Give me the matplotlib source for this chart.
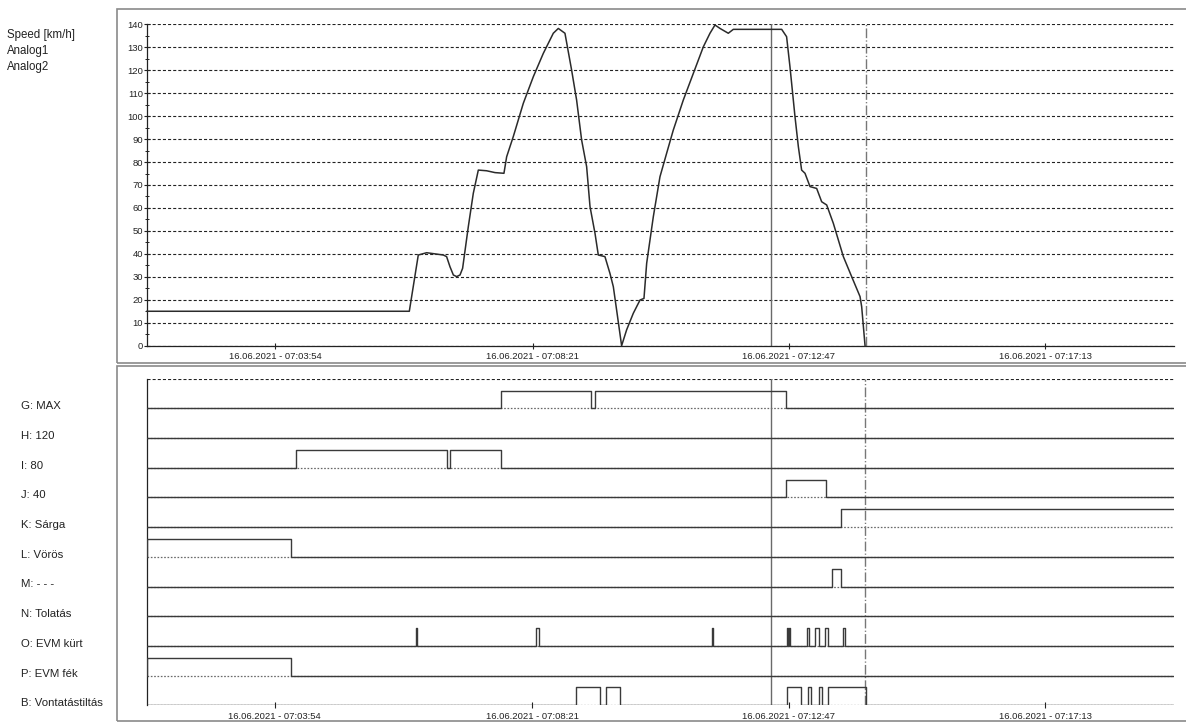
import matplotlib
matplotlib.use("Agg")
import matplotlib.pyplot as plt
from matplotlib.patches import Rectangle
from matplotlib.ticker import FixedLocator, MultipleLocator, FuncFormatter
from matplotlib.transforms import blended_transform_factory

plt.rcParams['font.family'] = ['Liberation Sans', 'DejaVu Sans']
plt.rcParams['lines.scale_dashes'] = False

# idő: másodperc 07:00:00 után (16.06.2021)
speed_t = [100.9, 373.1, 382.4, 391.1, 408.4, 411.8, 415.3, 418.8, 422.2, 425.7,
           428.4, 434.3, 439.5, 444.7, 453.3, 462.0, 471.3, 474.1, 481.0, 491.4,
           501.8, 512.1, 522.5, 527.7, 534.6, 541.5, 546.7, 551.9, 557.1, 560.6,
           565.8, 569.2, 576.1, 581.3, 584.8, 588.2, 593.4, 598.6, 605.5, 612.5,
           616.6, 619.4, 626.3, 633.2, 640.1, 647.0, 657.4, 667.8, 678.2, 685.1,
           690.3, 695.5, 704.1, 709.3, 759.5, 764.6, 768.1, 773.3, 776.8, 780.2,
           783.7, 788.9, 795.8, 801.0, 806.2, 813.1, 823.5, 832.1, 840.8, 842.5,
           846.0]
speed_v = [15.0, 15.0, 39.5, 40.5, 39.5, 38.8, 34.4, 30.8, 30.1, 30.8,
           33.7, 51.8, 66.4, 76.5, 76.2, 75.4, 75.1, 82.3, 91.1, 105.6,
           117.2, 127.3, 136.1, 138.2, 136.1, 120.1, 107.0, 89.6, 78.0, 60.6,
           48.9, 39.5, 38.8, 31.5, 25.7, 15.6, 0.0, 6.9, 14.1, 19.9,
           20.6, 35.9, 56.2, 73.6, 83.8, 93.9, 107.0, 118.6, 130.2, 136.1,
           139.7, 138.2, 136.1, 137.8, 137.8, 134.6, 121.5, 99.8, 86.7, 76.5,
           75.1, 69.3, 68.5, 62.7, 61.3, 53.3, 38.8, 30.1, 21.4, 17.0,
           0.0]

analog_labels = ["Speed [km/h]", "Analog1", "Analog2"]

x_ticks = [234, 501, 767, 1033]
t_start, t_end = 100.9, 1166.6
cursor_t = 748.2
marker_t = 846.5

# digitális csatornák (alulról felfelé), bekapcsolt szakaszok
channel_names = ["B: Vontatástiltás", "P: EVM fék", "O: EVM kürt", "N: Tolatás",
                 "M: - - -", "L: Vörös", "K: Sárga", "J: 40", "I: 80",
                 "H: 120", "G: MAX"]
ch_B = [(546.8, 571.0), (577.9, 592.4), (765.7, 780.2), (787.1, 789.6),
        (798.2, 801.3), (807.8, 847.0)]
ch_P = [(t_start, 251.0)]
ch_O = [(380.0, 381.6), (505.3, 508.5), (687.7, 688.2), (764.7, 766.3),
        (767.4, 768.8), (785.6, 788.0), (794.1, 798.3), (804.3, 807.8),
        (823.4, 825.2)]
ch_N = []
ch_M = [(811.7, 821.0)]
ch_L = [(t_start, 251.0)]
ch_K = [(821.0, t_end)]
ch_J = [(764.0, 805.5)]
ch_I = [(256.2, 412.5), (416.0, 468.9)]
ch_H = []
ch_G = [(468.9, 562.3), (565.8, 764.3)]
channels = [ch_B, ch_P, ch_O, ch_N, ch_M, ch_L, ch_K, ch_J, ch_I, ch_H, ch_G]

W, H = 1186, 723
fig = plt.figure(figsize=(W / 100, H / 100), dpi=100)
fig.patch.set_facecolor('white')


def fx(px):
    return px / W


def fy(py):
    return 1 - py / H


def time_label(t, pos):
    t = int(round(t))
    h = 7 + t // 3600
    m = (t % 3600) // 60
    s = t % 60
    return f"16.06.2021 - {h:02d}:{m:02d}:{s:02d}"


frame_col = '#8a8a8a'
line_col = '#2b2b2b'
grid_dash = (0, (2.2, 1.5))
dot_dash = (0, (1.2, 1.2))
dashdot = (0, (7, 1.6, 0.9, 1.6))

# keretek
fig.add_artist(Rectangle((fx(117), fy(362.5)), 1.0, (362.5 - 9.3) / H, fill=False,
                         edgecolor=frame_col, lw=1.2, transform=fig.transFigure))
fig.add_artist(Rectangle((fx(117), fy(721)), 1.0, (721 - 365.7) / H, fill=False,
                         edgecolor=frame_col, lw=1.2, transform=fig.transFigure))

# felső panel: sebesség
ax1 = fig.add_axes([fx(147), fy(345.7), fx(1174 - 147), (345.7 - 24.3) / H])
ax1.set_xlim(t_start, t_end)
ax1.set_ylim(0, 140)
for side in ['top', 'right']:
    ax1.spines[side].set_visible(False)
for side in ['left', 'bottom']:
    ax1.spines[side].set_color('#222222')
    ax1.spines[side].set_linewidth(0.9)
ax1.yaxis.set_major_locator(MultipleLocator(10))
ax1.yaxis.set_minor_locator(MultipleLocator(5))
ax1.xaxis.set_major_locator(FixedLocator(x_ticks))
ax1.xaxis.set_major_formatter(FuncFormatter(time_label))
ax1.tick_params(axis='y', which='major', direction='inout', length=4.5, width=0.8,
                pad=0.6, labelsize=6.8, colors='#222222')
ax1.tick_params(axis='y', which='minor', direction='inout', length=3, width=0.7,
                colors='#222222')
ax1.tick_params(axis='x', which='major', direction='inout', length=4, width=0.8,
                pad=2.6, labelsize=6.8, colors='#222222')
ax1.set_axisbelow(True)
ax1.grid(axis='y', color='#222222', linestyle=grid_dash, lw=0.8)
ax1.patch.set_alpha(0)

ax1.plot(speed_t, speed_v, color=line_col, lw=1.1, clip_on=False, zorder=3)
ax1.axvline(cursor_t, color='#6a6a6a', lw=1.0, zorder=2)
ax1.axvline(marker_t, color='#777777', lw=1.0, linestyle=dashdot, zorder=2)

for i, lab in enumerate(analog_labels):
    fig.text(fx(7.3), fy(35 + i * 15.8), lab, fontsize=8.3, color='#222222',
             ha='left', va='center')

# alsó panel: digitális jelek
ax2 = fig.add_axes([fx(146.5), fy(705.3), fx(1174 - 146.5), (705.3 - 378.7) / H])
ax2.set_xlim(t_start, t_end)
ax2.set_ylim(0, 11)
for side in ['top', 'right', 'bottom']:
    ax2.spines[side].set_visible(False)
ax2.spines['left'].set_color('#222222')
ax2.spines['left'].set_linewidth(0.9)
ax2.set_yticks([])
ax2.xaxis.set_major_locator(FixedLocator(x_ticks))
ax2.xaxis.set_major_formatter(FuncFormatter(time_label))
ax2.tick_params(axis='x', which='major', direction='inout', length=4, width=0.8,
                pad=2.6, labelsize=6.8, colors='#222222')
ax2.patch.set_alpha(0)

for i in range(11):
    ax2.axhline(i, color='#6a6a6a', lw=0.9, linestyle=dot_dash, zorder=1)
ax2.axhline(11, color='#222222', lw=0.8, linestyle=grid_dash, zorder=1)

high = 0.6
for i, intervals in enumerate(channels):
    xs, ys = [t_start], [0]
    for on, off in intervals:
        xs += [on, on]
        ys += [ys[-1], 1]
        if off < t_end:
            xs += [off, off]
            ys += [1, 0]
    xs.append(t_end)
    ys.append(ys[-1])
    ax2.plot(xs, [i + high * v for v in ys], color='#3a3a3a', lw=1.0, zorder=3)

ax2.axvline(cursor_t, color='#6a6a6a', lw=1.0, zorder=2)
ax2.axvline(marker_t, color='#777777', lw=1.0, linestyle=dashdot, zorder=2)

trans = blended_transform_factory(fig.transFigure, ax2.transData)
for i, name in enumerate(channel_names):
    ax2.text(fx(21), i + 0.07, name, transform=trans, fontsize=8.2,
             color='#222222', ha='left', va='center')

fig.savefig('out.png', dpi=100)
